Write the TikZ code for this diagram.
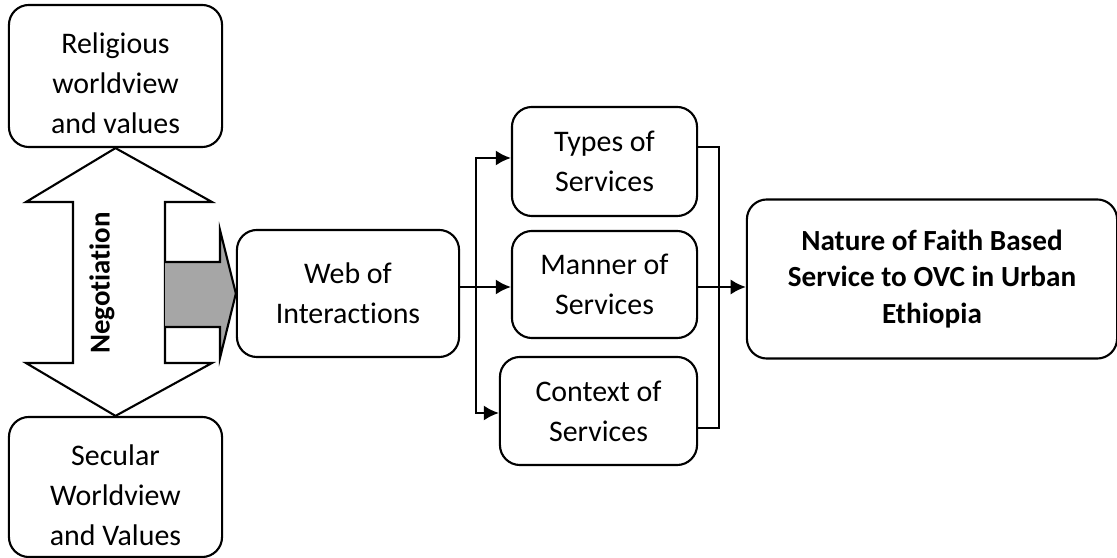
\documentclass[tikz,border=0pt]{standalone}
\usepackage{fontspec}
\setmainfont[Ligatures={NoCommon}]{Carlito}
\usetikzlibrary{arrows.meta}

\begin{document}
\begin{tikzpicture}[x=0.01cm,y=-0.01cm,>={Latex[length=4.3pt,width=4.3pt]},
    line width=0.6pt,
    box/.style={draw,rounded corners=0.2cm,align=center,inner sep=0pt,
        font=\fontsize{8.5pt}{11.4pt}\selectfont},
    bigbox/.style={box,font=\fontsize{8.3pt}{10.4pt}\selectfont\bfseries}]
    \useasboundingbox (0,0) rectangle (1117,558);

    % Draw the two worldview boxes
    \node[box,minimum width=2.13cm,minimum height=1.42cm] (relig) at (115.5,76)
        {\rule{0pt}{10pt}Religious\\worldview\\and values};
    \node[box,minimum width=2.13cm,minimum height=1.40cm] (secul) at (115.5,487)
        {\rule{0pt}{10.6pt}Secular\\Worldview\\and Values};

    % Draw double arrow between them
    \draw (relig.south) -- (212,202) -- (165,202) -- (165,363) -- (212,363)
        -- (secul.north) -- (26,363) -- (73,363) -- (73,202) -- (26,202) -- cycle;
    \node[rotate=90,font=\fontsize{8.2pt}{9pt}\selectfont\bfseries] (nego) at (102,283) {Negotiation};

    % Draw middle boxes
    \node[box,minimum width=2.22cm,minimum height=1.27cm] (web) at (348,293.5)
        {Web of\\Interactions};
    \node[box,minimum width=1.85cm,minimum height=1.09cm] (types) at (604.5,161.5)
        {Types of\\Services};
    \node[box,minimum width=1.85cm,minimum height=1.07cm] (manner) at (604.5,284.5)
        {Manner of\\Services};
    \node[box,minimum width=1.97cm,minimum height=1.08cm] (context) at (598.5,411)
        {Context of\\Services};
    \node[bigbox,minimum width=3.70cm,minimum height=1.59cm] (nature) at (932,279)
        {Nature of Faith Based\\Service to OVC in Urban\\Ethiopia};

    % Draw grey arrow into the web box
    \fill[black!35] (165,262) -- (220,262) -- (220,230) -- (web.west) -- (220,358)
        -- (220,327) -- (165,327) -- cycle;
    \draw (165,262) -- (220,262) -- (220,230) -- (web.west) -- (220,358)
        -- (220,327) -- (165,327);

    % Draw connectors
    \coordinate (split) at (476,287);
    \coordinate (join) at (719,287);
    \draw[->] (web.east |- split) -- (manner.west |- split);
    \draw[->] (split) |- ([yshift=0.035cm]types.west);
    \draw[->] (split) |- ([yshift=-0.02cm]context.west);
    \draw ([yshift=0.145cm]types.east) -| (join) |- ([yshift=-0.17cm]context.east);
    \draw[->] (manner.east |- split) -- (nature.west |- split);
\end{tikzpicture}
\end{document}
